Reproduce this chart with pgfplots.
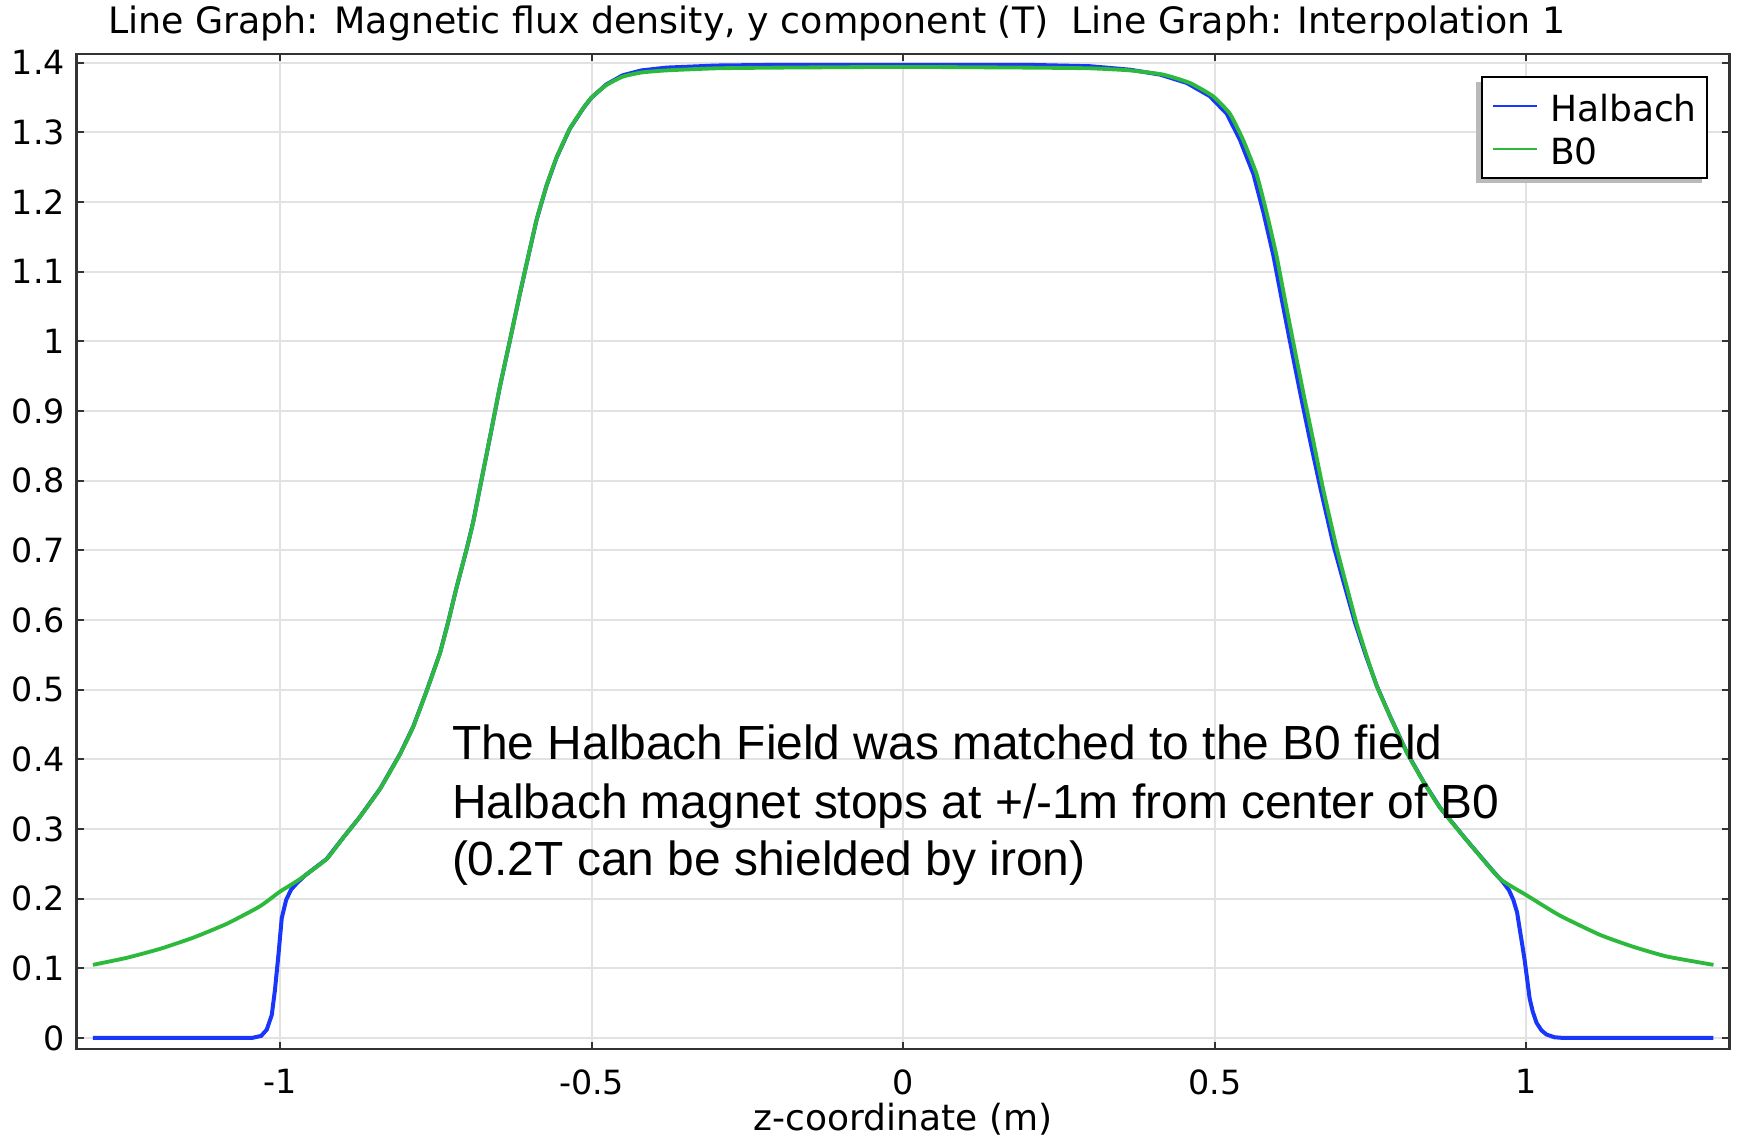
\documentclass[border=0pt]{standalone}
\usepackage{fontspec}
\setmainfont{DejaVu Sans}
\newfontfamily\arialf{Liberation Sans}
\usepackage{pgfplots}
\pgfplotsset{compat=1.18}
\definecolor{hblue}{RGB}{25,55,250}
\definecolor{bgreen}{RGB}{45,185,60}
\definecolor{gridc}{RGB}{226,226,226}

\pgfplotstableread{
x y
-1.300 0.000
-1.045 0.000
-1.030 0.003
-1.021 0.012
-1.013 0.033
-1.008 0.068
-1.002 0.122
-0.997 0.172
-0.990 0.198
-0.982 0.213
-0.973 0.222
-0.960 0.233
-0.925 0.257
-0.898 0.288
-0.872 0.317
-0.839 0.358
-0.807 0.408
-0.786 0.447
-0.765 0.497
-0.743 0.553
-0.730 0.597
-0.717 0.645
-0.700 0.703
-0.690 0.740
-0.679 0.790
-0.663 0.862
-0.647 0.935
-0.631 1.001
-0.615 1.068
-0.602 1.120
-0.588 1.175
-0.572 1.224
-0.556 1.264
-0.535 1.305
-0.513 1.335
-0.500 1.350
-0.476 1.369
-0.450 1.382
-0.420 1.389
-0.380 1.393
-0.300 1.396
-0.200 1.397
0.000 1.397
0.200 1.397
0.300 1.395
0.364 1.390
0.412 1.383
0.455 1.371
0.492 1.352
0.519 1.327
0.540 1.290
0.562 1.240
0.578 1.185
0.594 1.123
0.607 1.062
0.621 0.998
0.637 0.926
0.653 0.857
0.670 0.787
0.691 0.705
0.708 0.650
0.725 0.596
0.742 0.550
0.760 0.505
0.781 0.462
0.808 0.410
0.834 0.369
0.861 0.331
0.904 0.284
0.945 0.241
0.963 0.223
0.972 0.212
0.979 0.198
0.985 0.180
0.989 0.157
0.993 0.135
0.997 0.112
1.001 0.085
1.005 0.057
1.010 0.038
1.016 0.022
1.024 0.011
1.032 0.005
1.045 0.001
1.060 0.000
1.300 0.000
}\halbach

\pgfplotstableread{
x y
-1.300 0.105
-1.246 0.115
-1.192 0.128
-1.139 0.144
-1.085 0.164
-1.032 0.189
-1.000 0.210
-0.968 0.228
-0.925 0.257
-0.898 0.288
-0.872 0.317
-0.839 0.358
-0.807 0.408
-0.786 0.447
-0.765 0.497
-0.743 0.553
-0.730 0.597
-0.717 0.645
-0.700 0.703
-0.690 0.740
-0.679 0.790
-0.663 0.862
-0.647 0.935
-0.631 1.001
-0.615 1.068
-0.602 1.120
-0.588 1.175
-0.572 1.224
-0.556 1.264
-0.535 1.305
-0.513 1.335
-0.500 1.350
-0.476 1.368
-0.450 1.380
-0.420 1.386
-0.380 1.389
-0.300 1.392
-0.200 1.393
0.000 1.394
0.200 1.393
0.300 1.392
0.364 1.389
0.417 1.383
0.460 1.371
0.497 1.352
0.524 1.327
0.545 1.290
0.567 1.240
0.583 1.185
0.599 1.123
0.612 1.062
0.626 0.998
0.642 0.926
0.658 0.857
0.674 0.787
0.695 0.705
0.711 0.650
0.727 0.596
0.743 0.550
0.760 0.505
0.781 0.462
0.808 0.410
0.834 0.369
0.861 0.331
0.904 0.284
0.957 0.229
1.000 0.205
1.053 0.176
1.118 0.148
1.171 0.131
1.225 0.117
1.300 0.105
}\bzero

\begin{document}
\begin{tikzpicture}
\path[use as bounding box] (-23.0pt,-26.7pt) rectangle (498.4pt,314.7pt);
\begin{axis}[
  at={(0pt,0pt)}, anchor=south west,
  scale only axis, width=495.9pt, height=298.5pt,
  xmin=-1.326, xmax=1.326, ymin=-0.0158, ymax=1.4126,
  xtick={-1,-0.5,0,0.5,1},
  xticklabels={-1,-0.5,0,0.5,1},
  ytick={0,0.1,0.2,0.3,0.4,0.5,0.6,0.7,0.8,0.9,1,1.1,1.2,1.3,1.4},
  yticklabels={0,0.1,0.2,0.3,0.4,0.5,0.6,0.7,0.8,0.9,1,1.1,1.2,1.3,1.4},
  tick align=inside, major tick length=2.2pt,
  tick style={black!80, line width=0.6pt},
  grid=major, major grid style={gridc, line width=0.6pt},
  axis line style={black!80, line width=0.8pt},
  ticklabel style={font=\fontsize{10}{12}\selectfont},
  xticklabel style={yshift=-2.6pt},
  legend cell align=left,
  legend image code/.code={\draw[#1, line width=0.6pt] (0pt,0pt) -- (13pt,0pt);},
  legend style={at={(rel axis cs:0.9871,0.9779)}, anchor=north east,
    draw=black, line width=0.6pt, fill=white,
    inner xsep=3.2pt, inner ysep=4.05pt, row sep=3.75pt,
    font=\fontsize{10.8}{12}\selectfont,
    nodes={inner sep=0pt, text height=9.2pt, text depth=0pt},
    /tikz/every odd column/.append style={column sep=3.7pt}},
]
\addplot[hblue, line width=1.2pt] table[x=x,y=y] {\halbach};
\addlegendentry{Halbach}
\addplot[bgreen, line width=1.15pt, smooth, tension=0.3] table[x=x,y=y] {\bzero};
\addlegendentry{B0}
\fill[black!27] (rel axis cs:0.8465,0.8704) rectangle (rel axis cs:0.9831,0.9719);
\end{axis}
\node[anchor=base west, font=\fontsize{10.9}{12}\selectfont, inner sep=0pt] at (9.24pt,304.5pt) {Line Graph: Magnetic flux density, y component (T)\ \ Line Graph: Interpolation 1};
\node[anchor=base, font=\fontsize{10.8}{12}\selectfont, inner sep=0pt] at (247.95pt,-24.5pt) {z-coordinate (m)};
\begin{scope}[every node/.style={anchor=base west, inner sep=0pt, font=\arialf\fontsize{14.37}{17}\selectfont}]
\node at (112.4pt,86.7pt) {The Halbach Field was matched to the B0 field};
\node at (112.4pt,69.2pt) {Halbach magnet stops at +/-1m from center of B0};
\node at (112.4pt,51.9pt) {(0.2T can be shielded by iron)};
\end{scope}
\end{tikzpicture}
\end{document}
